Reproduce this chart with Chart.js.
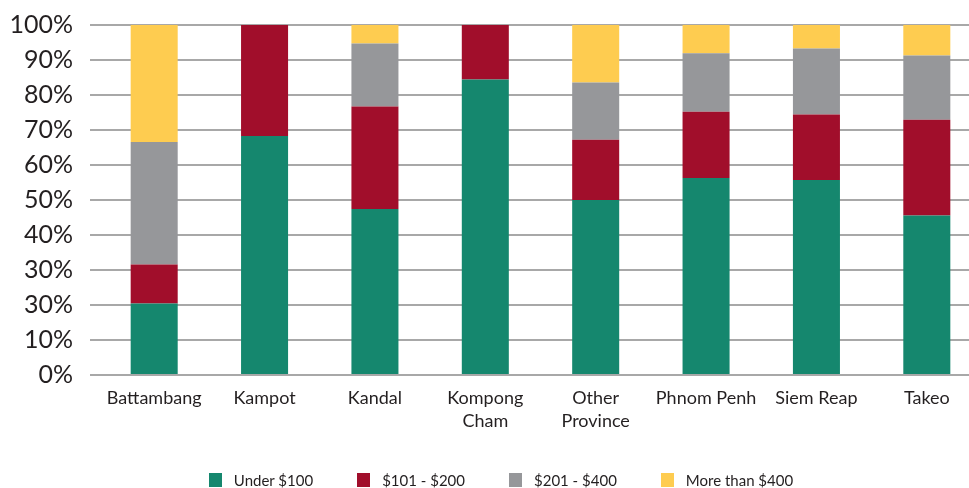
<!DOCTYPE html>
<html>
<head>
<meta charset="utf-8">
<script src="https://cdn.jsdelivr.net/npm/chart.js@4/dist/chart.umd.min.js"></script>
<style>
  html, body { margin: 0; padding: 0; background: #fff; overflow: hidden; }
  .wrap { position: relative; width: 985px; height: 488px; overflow: hidden; }
  #chart { position: absolute; left: 0; top: -7px; }
  #legend { position: absolute; left: 0; top: 471px; width: 1002px; display: flex; justify-content: center;
            font-family: Lato, sans-serif; font-size: 15px; color: #231f20; }
  #legend .item { display: flex; align-items: center; margin: 0 22px; }
  #legend .box { width: 13px; height: 14px; margin-right: 12px; }
</style>
</head>
<body>
<div class="wrap">
  <canvas id="chart" width="985" height="488"></canvas>
  <div id="legend"></div>
</div>
<script>
// 데이터
const categories = ['Battambang', 'Kampot', 'Kandal', ['Kompong', 'Cham'], ['Other', 'Province'], 'Phnom Penh', 'Siem Reap', 'Takeo'];
const seriesNames = ['Under $100', '$101 - $200', '$201 - $400', 'More than $400'];
const seriesColors = ['#15876e', '#a10e2b', '#96979a', '#fecc50'];
const under100 = [20.4, 68.3, 47.4, 84.4, 50.0, 56.3, 55.7, 45.6];
const from101to200 = [11.2, 31.7, 29.3, 15.6, 17.2, 18.9, 18.7, 27.3];
const from201to400 = [35.0, 0, 18.0, 0, 16.4, 16.7, 18.9, 18.4];
const over400 = [33.4, 0, 5.3, 0, 16.4, 8.1, 6.7, 8.7];
const yTickLabels = ['0%', '10%', '30%', '30%', '40%', '50%', '60%', '70%', '80%', '90%', '100%'];

const seriesValues = [under100, from101to200, from201to400, over400];

// 범례
const legendEl = document.getElementById('legend');
seriesNames.forEach((name, i) => {
  const item = document.createElement('div');
  item.className = 'item';
  item.innerHTML = '<span class="box" style="background:' + seriesColors[i] + '"></span><span>' + name + '</span>';
  legendEl.appendChild(item);
});

let ctx = document.getElementById('chart');
new Chart(ctx, {
  type: 'bar',
  data: {
    labels: categories,
    datasets: seriesValues.map((vals, i) => ({
      label: seriesNames[i],
      data: vals,
      backgroundColor: seriesColors[i],
      borderWidth: 0,
      categoryPercentage: 1,
      barPercentage: 0.426
    }))
  },
  options: {
    responsive: false,
    animation: false,
    layout: { padding: { top: 6, right: 3, bottom: 45, left: 0 } },
    scales: {
      x: {
        stacked: true,
        grid: { display: false },
        border: { display: false },
        ticks: {
          color: '#231f20',
          padding: 4,
          maxRotation: 0,
          autoSkip: false,
          font: { family: 'Lato', size: 18, lineHeight: 1.25 }
        }
      },
      y: {
        stacked: true,
        min: 0,
        max: 100,
        afterFit: (scale) => { scale.width = 99; },
        border: { display: false },
        grid: { color: '#a8a8a8', lineWidth: 2, tickLength: 9, drawTicks: true },
        ticks: {
          stepSize: 10,
          padding: 17,
          color: '#231f20',
          font: { family: 'Lato', size: 25 },
          callback: function (value, index) { return yTickLabels[index]; }
        }
      }
    },
    plugins: {
      legend: { display: false },
      tooltip: { enabled: false }
    }
  }
});
</script>
</body>
</html>
